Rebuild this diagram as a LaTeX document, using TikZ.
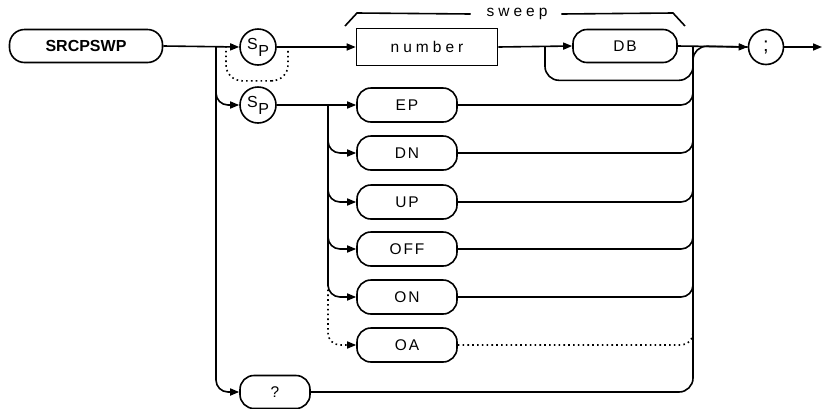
\documentclass[tikz,border=0pt]{standalone}
\usepackage{fontspec}
\setmainfont{Liberation Sans}
\newfontfamily\lblfont[LetterSpace=12]{Liberation Sans}
\newfontfamily\widefont[LetterSpace=26]{Liberation Sans}
\usetikzlibrary{arrows.meta,calc}
\begin{document}
\begin{tikzpicture}[x=1pt,y=-1pt,line width=1.6pt,
  every node/.style={inner sep=0pt},
  lbl/.style={font=\lblfont\fontsize{15.5}{16}\selectfont},
  wide/.style={font=\widefont\fontsize{15.5}{16}\selectfont},
  term/.style={draw,rounded corners=14pt,minimum height=34pt,minimum width=100pt,lbl},
  circ/.style={draw,circle,minimum size=36pt,font=\fontsize{16}{16}\selectfont},
  conn/.style={-{Triangle[length=9pt,width=7pt]}},
  rc/.style={rounded corners=12pt},
  dotpat/.style={dash pattern=on 1.6pt off 3.2pt}]
\useasboundingbox (0,0) rectangle (822,408);
% nodes
\node[draw,rounded corners=15pt,minimum width=153pt,minimum height=33pt,
      font=\bfseries\fontsize{16}{16}\selectfont] (cmd) at (86,46) {SRCPSWP};
\node[circ] (sp1) at (258,47) {\raisebox{3pt}{S}\kern0.5pt\raisebox{-4pt}{P}};
\node[circ] (sp2) at (258,105) {\raisebox{3pt}{S}\kern0.5pt\raisebox{-4pt}{P}};
\node[draw,rectangle,minimum width=141pt,minimum height=37pt,wide] (num) at (427,47) {number};
\node[term,minimum width=104pt,minimum height=33pt] (db) at (625,46) {DB};
\node[circ,minimum size=35pt,font=\fontsize{20}{20}\selectfont] (semi) at (766,47) {;};
\node[term] (ep) at (407,105) {EP};
\node[term] (dn) at (407,153) {DN};
\node[term] (up) at (407,202) {UP};
\node[term] (off) at (407,249) {OFF};
\node[term] (on) at (407,297) {ON};
\node[term] (oa) at (407,345) {OA};
\node[term,minimum width=70pt,minimum height=33pt] (q) at (275,392) {?};
\node[wide] (sw) at (517,14) {sweep};
% coordinates
\coordinate (lv) at (216,46);
\coordinate (mv) at (328,105);
\coordinate (rc) at (693,46);
\coordinate (bs) at (545,46);
\coordinate (dl) at (226,46);
\coordinate (dr) at (288,46);
\coordinate (oav) at (328,280);
\coordinate (oar) at (693,330);
\coordinate (fin) at (822,47);
\coordinate (bl) at (345,26);
\coordinate (br) at (685,26);
% connectors
\draw[conn] (cmd.east) -- (sp1.west);
\draw[conn,rc] (lv) |- (sp2.west);
\draw[conn,rc] (lv) |- (q.west);
\draw[dotpat,rounded corners=16pt] (dl) |- ($(sp1.south)+(0,15)$) -| (dr);
\draw[conn] (sp1.east) -- (num.west);
\draw[conn] (num.east) -- (db.west);
\draw[rounded corners=14pt] (bs) |- ($(db.south)+(0,17)$) -| (rc);
\draw[conn] (db.east) -- (semi.west);
\draw[conn] (semi.east) -- (fin);
\draw[rounded corners=14pt] (q.east) -| (rc) -- (semi.west);
\draw[conn] (sp2.east) -- (ep.west);
\draw[conn,rc] (mv) |- (dn.west);
\draw[conn,rc] (mv) |- (up.west);
\draw[conn,rc] (mv) |- (off.west);
\draw[conn,rc] (mv) |- (on.west);
\draw[conn,dotpat,rc] (oav) |- (oa.west);
\draw[rc] (ep.east) -| (rc);
\draw[rc] (dn.east) -| (rc);
\draw[rc] (up.east) -| (rc);
\draw[rc] (off.east) -| (rc);
\draw[rc] (on.east) -| (rc);
\draw[dotpat,rc] (oa.east) -| (oar);
% sweep bracket
\draw (bl) -- ++(12,-13) -- ($(sw.west)+(-15,0)$);
\draw ($(sw.east)+(13,0)$) -- ($(br)+(-12,-13)$) -- (br);
\end{tikzpicture}
\end{document}
